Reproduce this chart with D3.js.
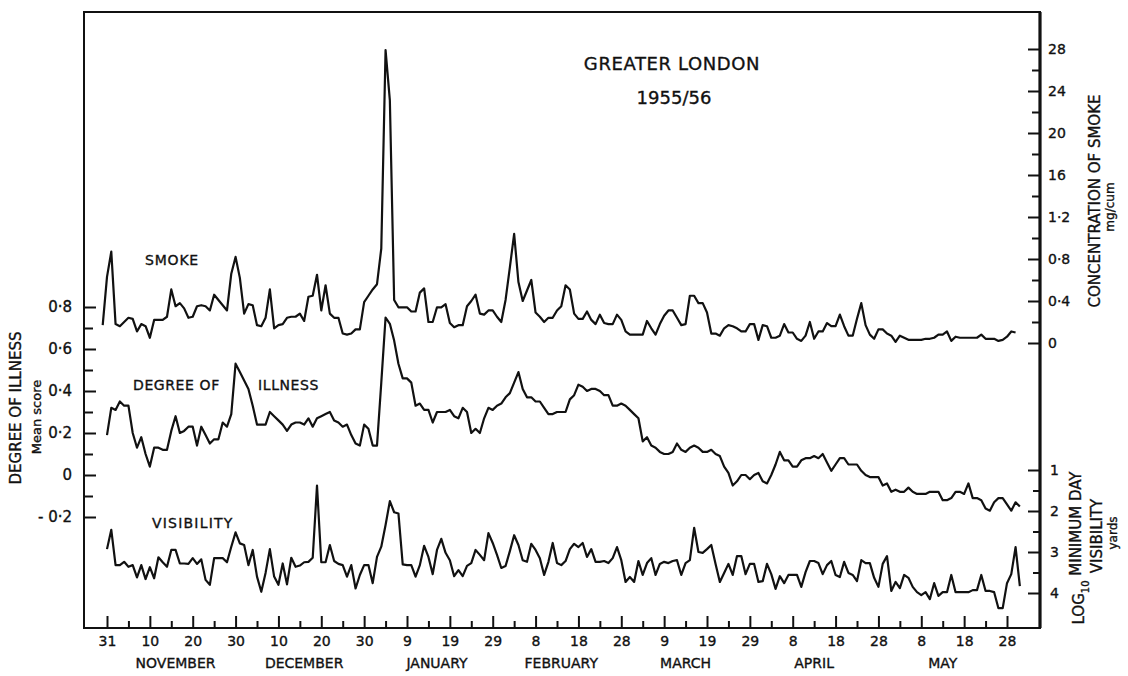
<!DOCTYPE html>
<html>
<head>
<meta charset="utf-8">
<script src="https://cdn.jsdelivr.net/npm/d3@7"></script>
<style>
  body { margin: 0; background: #fff; }
  svg { display: block; }
  text { font-family: "DejaVu Sans", sans-serif; fill: #111; stroke: #111; stroke-width: 0.35; }
  .series { fill: none; stroke: #111; stroke-width: 2.2; stroke-linejoin: round; }
</style>
</head>
<body>
<svg id="chart" width="1128" height="676"></svg>
<script>
"use strict";

// daily smoke, mg/cum (starts 30 Oct 1955)
const smoke = [
  0.17, 0.63, 0.87, 0.18, 0.16, 0.20, 0.24, 0.23, 0.11, 0.18, 0.16,
  0.05, 0.22, 0.22, 0.22, 0.25, 0.51, 0.35, 0.38, 0.33, 0.24,
  0.25, 0.35, 0.36, 0.35, 0.31, 0.46, 0.41, 0.36, 0.31, 0.66,
  0.82, 0.62, 0.28, 0.37, 0.36, 0.17, 0.16, 0.24, 0.51, 0.14,
  0.17, 0.18, 0.24, 0.25, 0.25, 0.28, 0.21, 0.44, 0.45, 0.65,
  0.31, 0.55, 0.28, 0.24, 0.24, 0.09, 0.08, 0.09, 0.13, 0.13,
  0.39, 0.45, 0.51, 0.56, 0.90, 2.79, 2.31, 0.41, 0.34, 0.34,
  0.34, 0.30, 0.30, 0.48, 0.52, 0.20, 0.20, 0.34, 0.34, 0.37,
  0.19, 0.15, 0.17, 0.17, 0.35, 0.40, 0.46, 0.28, 0.27, 0.31,
  0.31, 0.25, 0.20, 0.41, 0.72, 1.04, 0.58, 0.40, 0.50, 0.60,
  0.29, 0.25, 0.20, 0.24, 0.24, 0.31, 0.35, 0.55, 0.51, 0.28,
  0.23, 0.23, 0.30, 0.22, 0.18, 0.27, 0.19, 0.18, 0.18, 0.27,
  0.22, 0.11, 0.08, 0.08, 0.08, 0.08, 0.21, 0.14, 0.08, 0.18,
  0.26, 0.31, 0.31, 0.24, 0.17, 0.18, 0.45, 0.45, 0.38, 0.38,
  0.29, 0.09, 0.09, 0.07, 0.14, 0.17, 0.16, 0.14, 0.11, 0.11,
  0.18, 0.18, 0.03, 0.17, 0.16, 0.05, 0.05, 0.07, 0.18, 0.10,
  0.10, 0.04, 0.02, 0.07, 0.20, 0.04, 0.11, 0.11, 0.19, 0.16,
  0.16, 0.27, 0.16, 0.07, 0.07, 0.23, 0.38, 0.17, 0.08, 0.04,
  0.13, 0.13, 0.09, 0.07, 0.01, 0.07, 0.05, 0.03, 0.03, 0.03,
  0.03, 0.04, 0.04, 0.05, 0.08, 0.08, 0.11, 0.02, 0.06, 0.05,
  0.05, 0.05, 0.05, 0.05, 0.08, 0.04, 0.04, 0.04, 0.02, 0.03,
  0.06, 0.11, 0.10
];

// degree of illness, mean score (starts 31 Oct 1955)
const illness = [
  0.19, 0.32, 0.31, 0.35, 0.33, 0.33, 0.20, 0.13, 0.18, 0.10,
  0.04, 0.13, 0.13, 0.12, 0.12, 0.21, 0.28, 0.20, 0.21, 0.23,
  0.23, 0.14, 0.23, 0.19, 0.15, 0.17, 0.17, 0.25, 0.23, 0.29,
  0.53, 0.49, 0.45, 0.41, 0.33, 0.24, 0.24, 0.24, 0.30, 0.28,
  0.26, 0.24, 0.21, 0.24, 0.25, 0.25, 0.24, 0.27, 0.23, 0.27,
  0.28, 0.29, 0.30, 0.26, 0.25, 0.23, 0.24, 0.19, 0.15, 0.14,
  0.24, 0.22, 0.14, 0.14, 0.44, 0.75, 0.72, 0.64, 0.53, 0.46,
  0.46, 0.44, 0.33, 0.34, 0.31, 0.31, 0.25, 0.30, 0.30, 0.30,
  0.31, 0.28, 0.27, 0.32, 0.30, 0.20, 0.22, 0.20, 0.27, 0.32,
  0.31, 0.33, 0.34, 0.37, 0.39, 0.44, 0.49, 0.41, 0.37, 0.37,
  0.35, 0.35, 0.32, 0.29, 0.29, 0.30, 0.30, 0.30, 0.36, 0.38,
  0.43, 0.42, 0.40, 0.41, 0.41, 0.40, 0.38, 0.38, 0.33, 0.33,
  0.34, 0.33, 0.31, 0.29, 0.27, 0.16, 0.18, 0.14, 0.13, 0.11,
  0.10, 0.10, 0.11, 0.15, 0.12, 0.11, 0.13, 0.14, 0.13, 0.11,
  0.11, 0.12, 0.10, 0.09, 0.04, 0.01, -0.05, -0.03, 0.00, 0.00,
  -0.02, 0.00, 0.01, -0.03, -0.04, 0.00, 0.05, 0.11, 0.07, 0.07,
  0.04, 0.04, 0.07, 0.08, 0.08, 0.09, 0.08, 0.10, 0.06, 0.02,
  0.05, 0.08, 0.08, 0.05, 0.05, 0.05, 0.02, 0.00, -0.01, -0.01,
  -0.01, -0.05, -0.04, -0.08, -0.07, -0.08, -0.08, -0.06, -0.08, -0.09,
  -0.09, -0.09, -0.08, -0.08, -0.08, -0.12, -0.12, -0.11, -0.08, -0.08,
  -0.09, -0.04, -0.11, -0.11, -0.12, -0.16, -0.17, -0.13, -0.11, -0.11,
  -0.14, -0.17, -0.13, -0.15
];

// log10 minimum day visibility, yards (starts 31 Oct 1955)
const visibility = [
  2.93, 2.46, 3.32, 3.32, 3.24, 3.36, 3.32, 3.62, 3.32, 3.66,
  3.37, 3.64, 3.13, 3.25, 3.36, 2.95, 2.95, 3.28, 3.28, 3.29,
  3.15, 3.29, 3.18, 3.68, 3.80, 3.15, 3.15, 3.15, 3.25, 2.87,
  2.52, 2.79, 2.83, 3.32, 2.95, 3.60, 3.97, 3.51, 2.93, 3.60,
  3.80, 3.28, 3.79, 3.14, 3.36, 3.33, 3.25, 3.24, 3.14, 1.38,
  3.25, 3.25, 2.83, 3.22, 3.29, 3.32, 3.60, 3.32, 3.89, 3.56,
  3.32, 3.32, 3.76, 3.12, 2.87, 2.34, 1.76, 2.03, 2.06, 3.30,
  3.32, 3.32, 3.60, 3.32, 2.85, 3.12, 3.54, 2.95, 2.68, 3.02,
  3.20, 3.59, 3.44, 3.59, 3.34, 3.27, 2.95, 3.07, 3.20, 2.54,
  2.78, 3.07, 3.39, 3.34, 2.98, 2.59, 2.83, 3.20, 3.24, 2.80,
  2.95, 3.15, 3.56, 3.24, 2.78, 3.27, 3.32, 3.22, 2.93, 2.80,
  2.88, 2.78, 3.12, 2.93, 3.24, 3.24, 3.22, 3.27, 3.15, 2.88,
  3.20, 3.73, 3.61, 3.73, 3.22, 3.56, 3.27, 3.15, 3.56, 3.29,
  3.24, 3.27, 3.22, 3.20, 3.56, 3.27, 3.20, 2.41, 3.00, 3.02,
  2.93, 2.83, 3.29, 3.73, 3.51, 3.29, 3.56, 3.10, 3.10, 3.54,
  3.29, 3.29, 3.73, 3.71, 3.29, 3.54, 3.90, 3.59, 3.76, 3.56,
  3.56, 3.56, 3.85, 3.49, 3.22, 3.22, 3.27, 3.54, 3.32, 3.22,
  3.56, 3.61, 3.24, 3.51, 3.56, 3.71, 3.20, 3.27, 3.27, 3.63,
  3.85, 3.29, 3.10, 3.95, 3.73, 3.88, 3.56, 3.63, 3.85, 3.98,
  4.05, 3.98, 4.15, 3.76, 4.07, 3.98, 3.98, 3.56, 3.98, 3.98,
  3.98, 3.98, 3.93, 3.93, 3.56, 3.95, 3.95, 3.98, 4.37, 4.37,
  3.76, 3.54, 2.88, 3.83
];

const smokeStart = Date.UTC(1955, 9, 30);
const seriesStart = Date.UTC(1955, 9, 31);

// month names and the day they are centred on
const months = [
  ['NOVEMBER', '1955-11-16'], ['DECEMBER', '1955-12-16'], ['JANUARY', '1956-01-16'],
  ['FEBRUARY', '1956-02-14'], ['MARCH', '1956-03-14'], ['APRIL', '1956-04-13'],
  ['MAY', '1956-05-13']
];

const illnessTicks = [-0.2, 0, 0.2, 0.4, 0.6, 0.8];
const smokeTicks = [0, 0.4, 0.8, 1.2, 1.6, 2.0, 2.4, 2.8];
const smokeTickLabels = ['0', '0·4', '0·8', '1·2', '16', '20', '24', '28'];
const visTicks = [1, 2, 3, 4];

var d3 = window.d3;
var svg = d3.select('#chart');

const box = {left: 84, right: 1040, top: 12, bottom: 628};

var x = d3.scaleUtc()
    .domain([seriesStart, Date.UTC(1956, 4, 28)])
    .range([107, 1007]);
var yIll = d3.scaleLinear().domain([-0.2, 0.8]).range([517, 307]);
var ySmoke = d3.scaleLinear().domain([0, 2.8]).range([343, 49]);
var yVis = d3.scaleLinear().domain([1, 4]).range([470, 593]);

function dated(values, start) {
  return values.map((v, i) => ({date: d3.utcDay.offset(new Date(start), i), v: v}));
}

function fmtDot(v) {
  if (Math.abs(v) < 1e-9) return '0';
  return d3.format('.1f')(v).replace('.', '·').replace(/[-\u2212]/, '- ');
}

function styleAxis(g, size) {
  g.select('.domain').remove();
  g.selectAll('line').attr('stroke', '#111').attr('stroke-width', 2);
  g.selectAll('text')
    .attr('font-family', '"DejaVu Sans", sans-serif')
    .attr('font-size', size)
    .attr('fill', '#111');
}

// frame
svg.append('path')
    .attr('d', 'M' + box.left + ',' + box.top + 'H' + box.right + 'V' + box.bottom + 'H' + box.left + 'Z')
    .attr('fill', 'none')
    .attr('stroke', '#111')
    .attr('stroke-width', 2)
;
svg.append('line')
    .attr('x1', box.right).attr('x2', box.right)
    .attr('y1', box.top).attr('y2', box.bottom)
    .attr('stroke', '#111')
    .attr('stroke-width', 3.2)
;

// x axis: minor ticks every 5 days, labelled every 10
var tickDays = d3.range(0, 211, 5).map(i => d3.utcDay.offset(new Date(seriesStart), i));
svg.append('g')
    .attr('transform', 'translate(0,' + box.bottom + ')')
    .call(d3.axisBottom(x).tickValues(tickDays.filter((d, i) => i % 2 === 1))
      .tickSizeInner(-7).tickSizeOuter(0).tickFormat(''))
    .call(g => styleAxis(g, 14))
;
svg.append('g')
    .attr('transform', 'translate(0,' + box.bottom + ')')
    .call(d3.axisBottom(x).tickValues(tickDays.filter((d, i) => i % 2 === 0))
      .tickSizeInner(-12).tickSizeOuter(0).tickPadding(8)
      .tickFormat(d3.utcFormat('%-d')))
    .call(g => styleAxis(g, 14))
;

svg.append('g').selectAll('text')
    .data(months).enter()
    .append('text')
      .attr('x', d => x(new Date(d[1] + 'T00:00:00Z')))
      .attr('y', 663)
      .attr('text-anchor', 'middle')
      .attr('dominant-baseline', 'central')
      .attr('font-size', 14)
      .text(d => d[0])
;

// left axis: degree of illness
svg.append('g')
    .attr('transform', 'translate(' + box.left + ',0)')
    .call(d3.axisLeft(yIll).tickValues(d3.range(-0.2, 0.85, 0.1).filter(v => Math.round(v * 10) % 2 !== 0))
      .tickSizeInner(-9).tickSizeOuter(0).tickFormat(''))
    .call(g => styleAxis(g, 15))
;
svg.append('g')
    .attr('transform', 'translate(' + box.left + ',0)')
    .call(d3.axisLeft(yIll).tickValues(illnessTicks)
      .tickSizeInner(-12).tickSizeOuter(0).tickPadding(12).tickFormat(fmtDot))
    .call(g => styleAxis(g, 15))
;

// right axis: smoke
svg.append('g')
    .attr('transform', 'translate(' + box.right + ',0)')
    .call(d3.axisRight(ySmoke).tickValues(d3.range(0.2, 2.8, 0.4))
      .tickSizeInner(-8).tickSizeOuter(0).tickFormat(''))
    .call(g => styleAxis(g, 14))
;
svg.append('g')
    .attr('transform', 'translate(' + box.right + ',0)')
    .call(d3.axisRight(ySmoke).tickValues(smokeTicks)
      .tickSizeInner(-12).tickSizeOuter(0).tickPadding(8)
      .tickFormat((d, i) => smokeTickLabels[i]))
    .call(g => styleAxis(g, 14))
;

// right axis: visibility
svg.append('g')
    .attr('transform', 'translate(' + box.right + ',0)')
    .call(d3.axisRight(yVis).tickValues([1.5, 2.5, 3.5])
      .tickSizeInner(-7).tickSizeOuter(0).tickFormat(''))
    .call(g => styleAxis(g, 14))
;
svg.append('g')
    .attr('transform', 'translate(' + box.right + ',0)')
    .call(d3.axisRight(yVis).tickValues(visTicks)
      .tickSizeInner(-12).tickSizeOuter(0).tickPadding(10).tickFormat(d3.format('d')))
    .call(g => styleAxis(g, 14))
;

// series
var lines = svg.append('g');
lines.append('path')
    .datum(dated(smoke, smokeStart))
    .classed('series', true)
    .attr('d', d3.line().x(d => x(d.date)).y(d => ySmoke(d.v)))
;
lines.append('path')
    .datum(dated(illness, seriesStart))
    .classed('series', true)
    .attr('d', d3.line().x(d => x(d.date)).y(d => yIll(d.v)))
;
lines.append('path')
    .datum(dated(visibility, seriesStart))
    .classed('series', true)
    .attr('d', d3.line().x(d => x(d.date)).y(d => yVis(d.v)))
;

// labels
function label(txt, px, py, size, anchor, spacing) {
  return svg.append('text')
    .attr('x', px).attr('y', py)
    .attr('font-size', size)
    .attr('text-anchor', anchor || 'start')
    .attr('dominant-baseline', 'central')
    .attr('letter-spacing', spacing || 0)
    .text(txt);
}
function vlabel(txt, px, py, size) {
  return svg.append('text')
    .attr('transform', 'translate(' + px + ',' + py + ') rotate(-90)')
    .attr('font-size', size)
    .attr('text-anchor', 'middle')
    .attr('dominant-baseline', 'central')
    .text(txt);
}

label('GREATER  LONDON', 672, 63, 18, 'middle', 0.6);
label('1955/56', 674, 97, 18, 'middle');
label('SMOKE', 145, 260, 14, 'start', 0.8);
label('DEGREE OF', 133, 385, 14, 'start', 0.6);
label('ILLNESS', 258, 385, 14, 'start', 0.6);
label('VISIBILITY', 152, 523, 14, 'start', 1.2);

vlabel('DEGREE OF ILLNESS', 16, 408, 15);
vlabel('Mean score', 36, 417, 13);
vlabel('CONCENTRATION  OF  SMOKE', 1095, 201, 15);
vlabel('mg/cum', 1110, 207, 12);

var logLabel = vlabel('', 1079, 548, 15);
logLabel.append('tspan').text('LOG');
logLabel.append('tspan').attr('font-size', 10).attr('dy', '0.55em').text('10');
logLabel.append('tspan').attr('dy', '-0.55em').text(' MINIMUM DAY');
vlabel('VISIBILITY', 1097, 536, 15);
vlabel('yards', 1113, 533, 12);
</script>
</body>
</html>
